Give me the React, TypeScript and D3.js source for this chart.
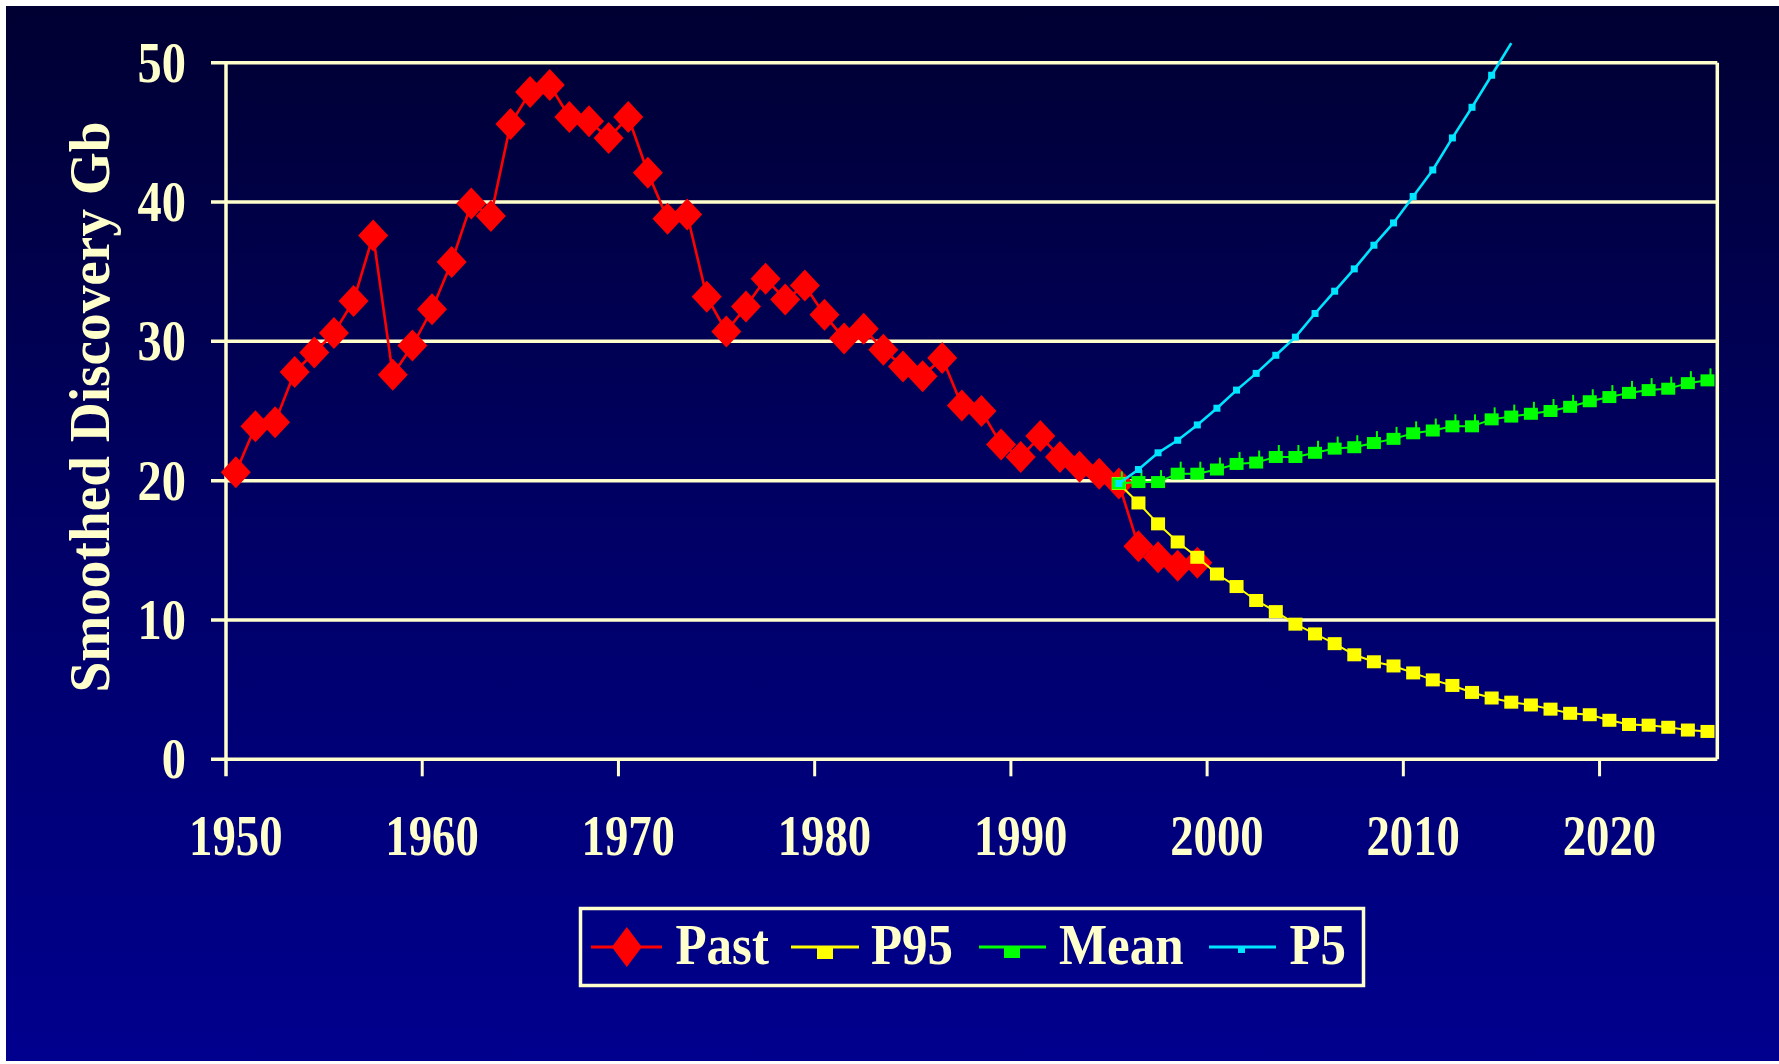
import React from "react";
import * as d3 from "d3";

const pastYears = d3.range(1950, 2000);
const pastValues = [
  20.6, 23.9, 24.2, 27.8, 29.2, 30.6, 32.9, 37.6, 27.6, 29.7,
  32.3, 35.7, 39.9, 39.0, 45.6, 47.9, 48.4, 46.1, 45.8, 44.6,
  46.1, 42.1, 38.8, 39.1, 33.2, 30.7, 32.5, 34.5, 33.0, 34.0,
  31.9, 30.2, 30.9, 29.4, 28.2, 27.5, 28.8, 25.4, 25.0, 22.6,
  21.7, 23.2, 21.7, 21.0, 20.5, 19.8, 15.3, 14.5, 13.9, 14.1,
];
const forecastYears = d3.range(1995, 2026);
const p95Values = [
  19.8, 18.4, 16.9, 15.6, 14.5, 13.3, 12.4, 11.4, 10.6, 9.7,
  9.0, 8.3, 7.5, 7.0, 6.7, 6.2, 5.7, 5.3, 4.8, 4.4,
  4.1, 3.9, 3.6, 3.3, 3.2, 2.8, 2.5, 2.45, 2.3, 2.1, 2.0,
];
const meanValues = [
  19.8, 19.9, 19.9, 20.5, 20.5, 20.8, 21.2, 21.3, 21.7, 21.7,
  22.0, 22.3, 22.4, 22.7, 23.0, 23.4, 23.6, 23.9, 23.9, 24.4,
  24.6, 24.8, 25.0, 25.3, 25.7, 26.0, 26.3, 26.5, 26.6, 27.0, 27.2,
];
const p5Years = d3.range(1995, 2016);
const p5Values = [
  19.8, 20.8, 22.0, 22.9, 24.0, 25.2, 26.5, 27.7, 29.0, 30.3,
  32.0, 33.6, 35.2, 36.9, 38.5, 40.4, 42.3, 44.6, 46.8, 49.1, 51.4,
];
const yTicks = [0, 10, 20, 30, 40, 50];
const xLabelYears = [1950, 1960, 1970, 1980, 1990, 2000, 2010, 2020];
const xTickYears = [1959.5, 1969.5, 1979.5, 1989.5, 1999.5, 2009.5, 2019.5];
const yTitle = "Smoothed Discovery Gb";
const legendNames = ["Past", "P95", "Mean", "P5"];

const W = 1779;
const H = 1064;
const CREAM = "#FFFFCC";
const FONT = "'Liberation Serif', 'Times New Roman', serif";

export default function App() {
  const x = d3.scaleLinear().domain([1949.5, 2025.5]).range([226, 1717.3]);
  const y = d3.scaleLinear().domain([0, 50]).range([759.3, 62.7]);
  const left = x(1949.5);
  const right = x(2025.5);
  const bottom = y(0);
  const top = y(50);

  const line = d3
    .line<[number, number]>()
    .x((d) => x(d[0]))
    .y((d) => y(d[1]));

  const past: [number, number][] = pastYears.map((yr, i) => [yr, pastValues[i]]);
  const p95: [number, number][] = forecastYears.map((yr, i) => [yr, p95Values[i]]);
  const mean: [number, number][] = forecastYears.map((yr, i) => [yr, meanValues[i]]);
  const p5: [number, number][] = p5Years.map((yr, i) => [yr, p5Values[i]]);

  const diamond = (cx: number, cy: number, hw: number, hh: number) =>
    `M${cx},${cy - hh}L${cx + hw},${cy}L${cx},${cy + hh}L${cx - hw},${cy}Z`;

  const legendY = 947;
  const legendBase = 964;

  return (
    <svg
      width={W}
      height={H}
      style={{ position: "absolute", left: 0, top: 0, display: "block" }}
    >
      <defs>
        <linearGradient id="bg" x1="0" y1="0" x2="0" y2="1">
          <stop offset="0%" stopColor="#000032" />
          <stop offset="50%" stopColor="#000066" />
          <stop offset="100%" stopColor="#00008E" />
        </linearGradient>
      </defs>
      <rect x={0} y={0} width={W} height={H} fill="#ffffff" />
      <rect x={6} y={6} width={W - 6} height={H - 9} fill="url(#bg)" />

      {/* gridlines and y ticks */}
      {yTicks.map((t) => (
        <line
          key={"g" + t}
          x1={left - 15}
          x2={right}
          y1={y(t)}
          y2={y(t)}
          stroke={CREAM}
          strokeWidth={3.5}
        />
      ))}
      {/* axes */}
      <line x1={left} x2={left} y1={top} y2={bottom + 17} stroke={CREAM} strokeWidth={3.5} />
      <line x1={right} x2={right} y1={top} y2={bottom} stroke={CREAM} strokeWidth={3.5} />
      {xTickYears.map((t) => (
        <line
          key={"xt" + t}
          x1={x(t)}
          x2={x(t)}
          y1={bottom}
          y2={bottom + 17}
          stroke={CREAM}
          strokeWidth={3}
        />
      ))}

      {/* y tick labels */}
      {yTicks.map((t) => (
        <text
          key={"yl" + t}
          transform={`translate(186,${y(t) + 19}) scale(0.85,1)`}
          textAnchor="end"
          fontFamily={FONT}
          fontWeight="bold"
          fontSize={57}
          fill={CREAM}
        >
          {t}
        </text>
      ))}
      {/* x tick labels */}
      {xLabelYears.map((t) => (
        <text
          key={"xl" + t}
          transform={`translate(${x(t)},855) scale(0.82,1)`}
          textAnchor="middle"
          fontFamily={FONT}
          fontWeight="bold"
          fontSize={57}
          fill={CREAM}
        >
          {t}
        </text>
      ))}
      {/* y title */}
      <text
        transform={`translate(109,407) rotate(-90) scale(0.97,1)`}
        textAnchor="middle"
        fontFamily={FONT}
        fontWeight="bold"
        fontSize={57}
        fill={CREAM}
      >
        {yTitle}
      </text>

      {/* Past */}
      <path d={line(past) || ""} fill="none" stroke="#FF0000" strokeWidth={2.6} />
      {past.map((d, i) => (
        <path key={"pd" + i} d={diamond(x(d[0]), y(d[1]), 15, 16)} fill="#FF0000" />
      ))}

      {/* P95 */}
      <path d={line(p95) || ""} fill="none" stroke="#FFFF00" strokeWidth={2} />
      {p95.map((d, i) => (
        <rect
          key={"p95" + i}
          x={x(d[0]) - 7}
          y={y(d[1]) - 6.5}
          width={14}
          height={13}
          fill="#FFFF00"
        />
      ))}

      {/* Mean */}
      <path d={line(mean) || ""} fill="none" stroke="#00FF00" strokeWidth={2} />
      {mean.map((d, i) => (
        <g key={"mn" + i}>
          <rect x={x(d[0]) - 7} y={y(d[1]) - 6} width={14} height={12} fill="#00FF00" />
          <line
            x1={x(d[0]) + 3}
            x2={x(d[0]) + 3}
            y1={y(d[1]) - 12}
            y2={y(d[1])}
            stroke="#00FF00"
            strokeWidth={2}
          />
        </g>
      ))}

      {/* P5 */}
      <path d={line(p5) || ""} fill="none" stroke="#00E5FF" strokeWidth={2.6} />
      {p5
        .filter((d) => d[1] <= 50)
        .map((d, i) => (
          <rect
            key={"p5" + i}
            x={x(d[0]) - 3.5}
            y={y(d[1]) - 3.5}
            width={7}
            height={7}
            fill="#00E5FF"
          />
        ))}

      {/* Legend */}
      <rect
        x={580.5}
        y={908.5}
        width={783}
        height={77}
        fill="none"
        stroke={CREAM}
        strokeWidth={3.5}
      />
      {/* Past */}
      <line x1={591} x2={662} y1={legendY} y2={legendY} stroke="#FF0000" strokeWidth={3} />
      <path d={diamond(626.8, legendY, 15, 20)} fill="#FF0000" />
      {/* P95 */}
      <line x1={791} x2={859} y1={legendY} y2={legendY} stroke="#FFFF00" strokeWidth={3} />
      <rect x={817} y={legendY} width={16} height={12} fill="#FFFF00" />
      {/* Mean */}
      <line x1={979} x2={1046} y1={legendY} y2={legendY} stroke="#00FF00" strokeWidth={3} />
      <rect x={1004} y={legendY} width={16} height={11} fill="#00FF00" />
      {/* P5 */}
      <line x1={1209} x2={1276} y1={legendY} y2={legendY} stroke="#00E5FF" strokeWidth={3} />
      <rect x={1238} y={legendY} width={7} height={6} fill="#00E5FF" />
      {[675.5, 871, 1059, 1289.5].map((lx, i) => (
        <text
          key={"lg" + i}
          transform={`translate(${lx},${legendBase}) scale(0.91,1)`}
          fontFamily={FONT}
          fontWeight="bold"
          fontSize={56}
          fill={CREAM}
        >
          {legendNames[i]}
        </text>
      ))}
    </svg>
  );
}
